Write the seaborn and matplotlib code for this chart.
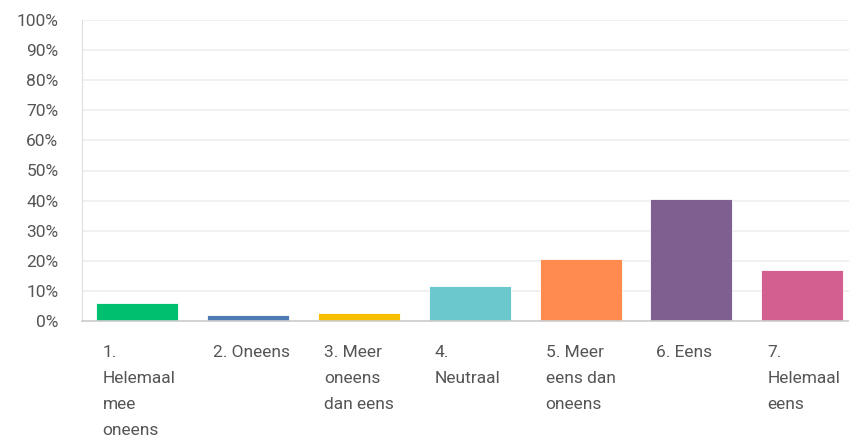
import matplotlib
matplotlib.use("Agg")
import matplotlib.pyplot as plt
import matplotlib.transforms as mtransforms
import seaborn as sns
import pandas as pd

categories = ["1.\nHelemaal\nmee\noneens", "2. Oneens", "3. Meer\noneens\ndan eens",
              "4.\nNeutraal", "5. Meer\neens dan\noneens", "6. Eens", "7.\nHelemaal\neens"]
values = [5.9, 2.0, 2.5, 11.7, 20.5, 40.5, 17.0]
colors = ["#00BF6F", "#507CB6", "#F9BE00", "#6BC8CD", "#FF8B4F", "#7F5F90", "#D25F90"]
yticks = [0, 10, 20, 30, 40, 50, 60, 70, 80, 90, 100]

sns.set_style("white")
plt.rcParams['font.family'] = ['Roboto', 'DejaVu Sans']

df = pd.DataFrame({"cat": categories, "val": values})

fig = plt.figure(figsize=(8.49, 4.37), dpi=100)
ax = fig.add_axes([82/849, 1-321/437, 1-82/849, (321-20)/437])
sns.barplot(data=df, x="cat", y="val", hue="cat", palette=colors, legend=False,
            width=0.74, ax=ax, saturation=1, edgecolor="white", linewidth=0.6)

ax.set_ylim(0, 100)
ax.set_xlim(-0.5, -0.5 + (849-82)/110.8)
ax.set_yticks(yticks)
ax.set_yticklabels([f"{t}%" for t in yticks], fontsize=12.5, color="#555555")
ax.yaxis.grid(True, color="#EEEEEE", linewidth=1.2)
ax.set_axisbelow(True)
ax.set_xlabel("")
ax.set_ylabel("")
ax.tick_params(axis="both", length=0)
ax.tick_params(axis="y", pad=17)
ax.tick_params(axis="x", pad=17)

for lab in ax.get_xticklabels():
    lab.set_ha("left")
    lab.set_fontsize(12.5)
    lab.set_color("#555555")
    lab.set_linespacing(1.93)
    lab.set_transform(lab.get_transform() + mtransforms.ScaledTranslation(-0.35, 0, fig.dpi_scale_trans))

for s in ["top", "right"]:
    ax.spines[s].set_visible(False)
ax.spines["left"].set_color("#DDDDDD")
ax.spines["bottom"].set_color("#CCCCCC")
ax.spines["bottom"].set_linewidth(1.2)

fig.savefig("out.png", dpi=100)
